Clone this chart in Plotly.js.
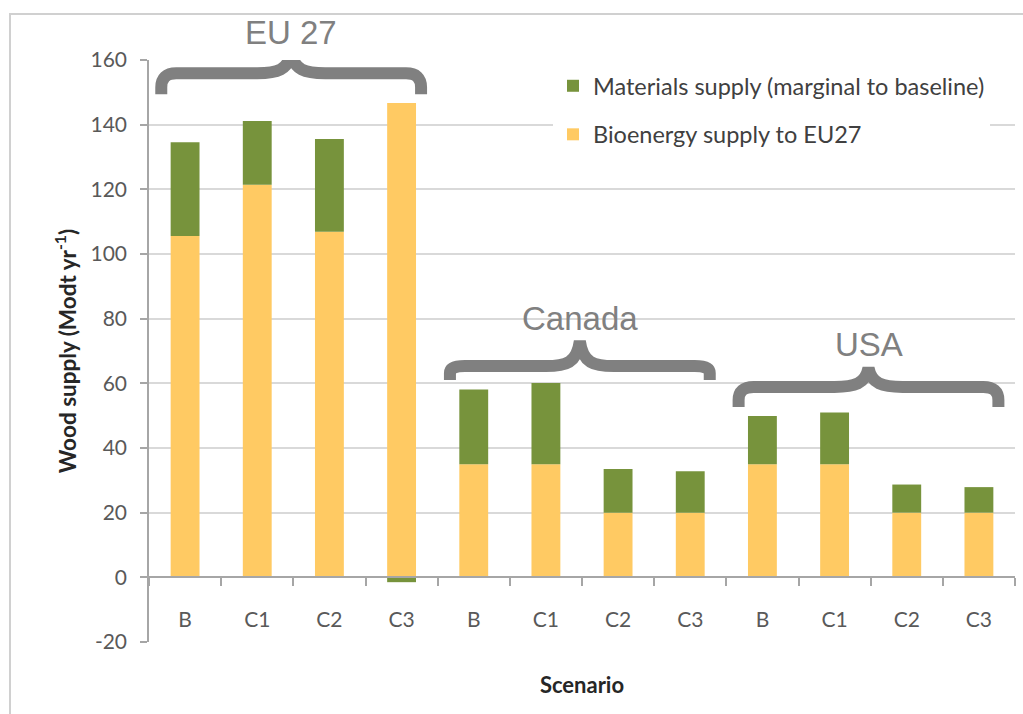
<!DOCTYPE html>
<html><head><meta charset="utf-8">
<script src="https://cdn.plot.ly/plotly-3.0.1.min.js"></script>
<style>html,body{margin:0;padding:0;background:#fff;} #chart{width:1023px;height:714px;}</style>
</head><body><div id="chart"></div>
<script>
// ---- data ----
const scenarios = ['B','C1','C2','C3','B','C1','C2','C3','B','C1','C2','C3'];
const bioenergy = [105.6, 121.4, 106.9, 146.7, 35, 35, 20, 20, 35, 35, 20, 20];
const materials = [29.0, 19.7, 28.7, -1.5, 23.1, 25.1, 13.5, 12.8, 14.9, 16.0, 8.7, 7.9];
const regionNames = ['EU 27', 'Canada', 'USA'];
const regionFirst = [0, 4, 8];
const regionLast = [3, 7, 11];
const seriesNames = ['Materials supply (marginal to baseline)', 'Bioenergy supply to EU27'];
const yTicks = [-20, 0, 20, 40, 60, 80, 100, 120, 140, 160];

// ---- layout config (positions/styles) ----
const W = 1023, H = 714;
const M = {l: 149, r: 8, t: 60, b: 72};
const yRange = [-20, 160];
const xRange = [-0.5, scenarios.length - 0.5];
const pw = W - M.l - M.r, ph = H - M.t - M.b;
const xu = (xRange[1] - xRange[0]) / pw;   // data per px
const yu = (yRange[1] - yRange[0]) / ph;
const braceBase = [149.4, 61.0, 52.7];   // data y of brace feet
const braceArm = [21, 14, 20];           // px height of arms
const bracePeak = [42, 39, 39];          // px height of peak (stroke centre)
const greyBrace = '#808080';

const idx = scenarios.map((_, i) => i);
const bounds = scenarios.map((_, i) => i - 0.5).concat([scenarios.length - 0.5]);
const toPaperY = v => (v - yRange[0]) / (yRange[1] - yRange[0]);

function bracePath(xL, xR, yb, arm, peak) {
  const w = (xR - xL) / xu, cx = w / 2;
  const P = (px, py) => (xL + px * xu).toFixed(4) + ',' + (yb + py * yu).toFixed(4);
  return 'M' + P(0, 0) + ' L' + P(0, 7) +
    ' Q' + P(0, arm) + ' ' + P(15, arm) +
    ' L' + P(cx - 34, arm) +
    ' C' + P(cx - 14, arm) + ' ' + P(cx - 3, arm + 3) + ' ' + P(cx, peak) +
    ' C' + P(cx + 3, arm + 3) + ' ' + P(cx + 14, arm) + ' ' + P(cx + 34, arm) +
    ' L' + P(w - 15, arm) +
    ' Q' + P(w, arm) + ' ' + P(w, 7) +
    ' L' + P(w, 0);
}

const shapes = [];
const annotations = [];
regionNames.forEach((name, g) => {
  const xL = regionFirst[g] - 0.33, xR = regionLast[g] + 0.27;
  shapes.push({type: 'path', xref: 'x', yref: 'y', path: bracePath(xL, xR, braceBase[g], braceArm[g], bracePeak[g]),
    line: {color: greyBrace, width: 12}, layer: 'above'});
  annotations.push({x: (xL + xR) / 2, xref: 'x', yref: 'paper',
    y: toPaperY(braceBase[g] + (39 + 6 + 17) * yu),
    text: name, showarrow: false, yanchor: 'middle', xanchor: 'center',
    font: {family: 'Liberation Sans, Arial, sans-serif', size: 33, color: greyBrace}});
});
// outer frame
shapes.push({type: 'rect', xref: 'paper', yref: 'paper',
  x0: (10 - M.l) / pw, x1: 1.2, y0: -0.3, y1: (H - M.b - 14) / ph,
  line: {color: '#d0d0d0', width: 2}, fillcolor: 'rgba(0,0,0,0)', layer: 'below'});

const font = 'Lato, "Open Sans", sans-serif';
const traces = [
  {type: 'bar', x: idx, y: bioenergy, name: seriesNames[1], marker: {color: '#FFCA63'},
   legendgroup: 'bio', legendrank: 2, width: 0.4, hoverinfo: 'y'},
  {type: 'bar', x: idx, y: materials, name: seriesNames[0], marker: {color: '#77933C'},
   legendgroup: 'mat', legendrank: 1, width: 0.4, hoverinfo: 'y'}
];

const layout = {
  width: W, height: H, margin: M, barmode: 'relative',
  paper_bgcolor: '#fff', plot_bgcolor: '#fff',
  font: {family: font, size: 20, color: '#595959'},
  showlegend: true,
  legend: {x: (553 - M.l) / pw, y: (H - M.b - 64) / ph, xanchor: 'left', yanchor: 'top',
    bgcolor: '#fff', traceorder: 'grouped', tracegroupgap: 15,
    font: {family: font, size: 23.5, color: '#404040'}},
  xaxis: {range: xRange, tickmode: 'array', tickvals: idx, ticktext: scenarios,
    ticks: '', showgrid: false, zeroline: false, showline: true, linecolor: '#a6a6a6', linewidth: 1.5,
    anchor: 'free', position: toPaperY(0),
    ticklabelstandoff: 24,
    minor: {tickmode: 'array', tickvals: bounds, ticks: 'outside', ticklen: 8, tickcolor: '#a6a6a6', tickwidth: 1.5, showgrid: false},
    tickfont: {family: font, size: 21, color: '#595959'},
    title: {text: 'Scenario', standoff: 46, font: {family: font, size: 22, color: '#262626', weight: 'bold'}},
    automargin: false, fixedrange: true},
  yaxis: {range: yRange, tickmode: 'array', tickvals: yTicks, ticktext: yTicks.map(String),
    showgrid: true, gridcolor: '#d9d9d9', gridwidth: 1.5,
    zeroline: false, showline: true, linecolor: '#a6a6a6', linewidth: 1.5,
    ticks: 'outside', ticklen: 7, tickcolor: '#a6a6a6', tickwidth: 1.5, ticklabelstandoff: 9,
    tickfont: {family: font, size: 21, color: '#595959'},
    title: {text: 'Wood supply (Modt yr<sup>-1</sup>)', standoff: 8,
      font: {family: font, size: 22.5, color: '#262626', weight: 'bold'}},
    automargin: false, fixedrange: true},
  shapes: shapes, annotations: annotations
};

Plotly.newPlot('chart', traces, layout, {displayModeBar: false});
</script>
</body></html>
